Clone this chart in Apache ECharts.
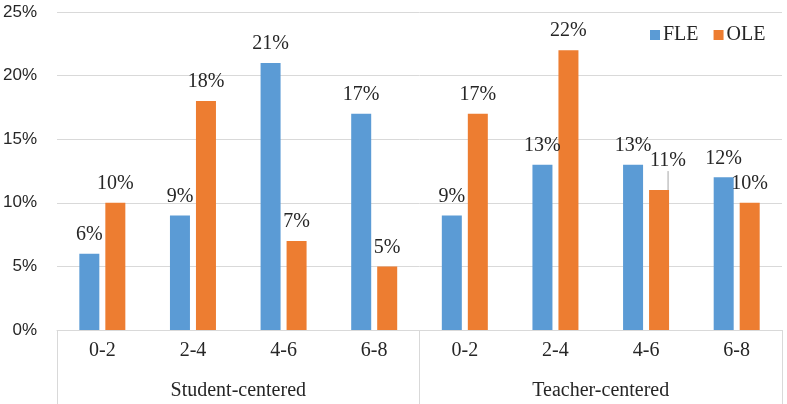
<!DOCTYPE html>
<html><head><meta charset="utf-8">
<script src="https://cdn.jsdelivr.net/npm/echarts@6/dist/echarts.min.js"></script>
<style>html,body{margin:0;padding:0;background:#fff}#c{width:787px;height:404px}</style>
</head><body><div id="c"></div>
<script>
const categories = ['0-2','2-4','4-6','6-8','0-2','2-4','4-6','6-8'];
const groups = ['Student-centered','Teacher-centered'];
const fle = [6, 9, 21, 17, 9, 13, 13, 12];
const ole = [10, 18, 7, 5, 17, 22, 11, 10];
const yTicks = [0, 5, 10, 15, 20, 25];

const serif = '"Liberation Serif","Times New Roman",serif';
const sans = '"Liberation Sans",Arial,sans-serif';
const chart = echarts.init(document.getElementById('c'));
const lbl = {show:true, position:'top', distance:9, formatter: p => p.value + '%', fontFamily: serif, fontSize: 20, color:'#262626'};
const oleData = ole.map((v, i) => i === 6
  ? {value: v, labelLine:{show:true, lineStyle:{color:'#a6a6a6', width:1}}}
  : {value: v});
chart.setOption({
  animation:false,
  grid:{left:55, right:5, top:12, bottom:74},
  legend:{left:645, top:20, itemWidth:10, itemHeight:10, itemGap:15,
    icon:'rect', textStyle:{fontFamily:serif, fontSize:20, color:'#262626', padding:[0,0,0,-2]},
    data:['FLE','OLE']},
  xAxis:[
    {type:'category', data:categories, position:'bottom',
     axisLine:{lineStyle:{color:'#d9d9d9', width:1}}, axisTick:{show:false},
     axisLabel:{fontFamily:serif, fontSize:20, color:'#262626', margin:11}},
    {type:'category', data:groups, position:'bottom',
     axisLine:{show:false},
     axisTick:{show:true, length:74, lineStyle:{color:'#d9d9d9'}},
     axisLabel:{fontFamily:serif, fontSize:20, color:'#262626', margin:51}}
  ],
  yAxis:{type:'value', min:0, max:25, interval:5,
    axisLine:{show:false}, axisTick:{show:false},
    splitLine:{lineStyle:{color:'#d9d9d9'}},
    axisLabel:{formatter: v => yTicks.includes(v) ? v + '%' : '', fontFamily:sans, fontSize:17, color:'#262626', margin:20}},
  series:[
    {name:'FLE', type:'bar', data:fle, xAxisIndex:0, barWidth:20, barGap:'30%',
     itemStyle:{color:'#5b9bd5'}, label:lbl},
    {name:'OLE', type:'bar', data:oleData, xAxisIndex:0, barWidth:20, barGap:'30%',
     itemStyle:{color:'#ed7d31'}, label:lbl,
     labelLine:{show:false},
     labelLayout: p => p.dataIndex === 6 ? {dx:9, dy:-10} : {}}
  ]
});
</script></body></html>
